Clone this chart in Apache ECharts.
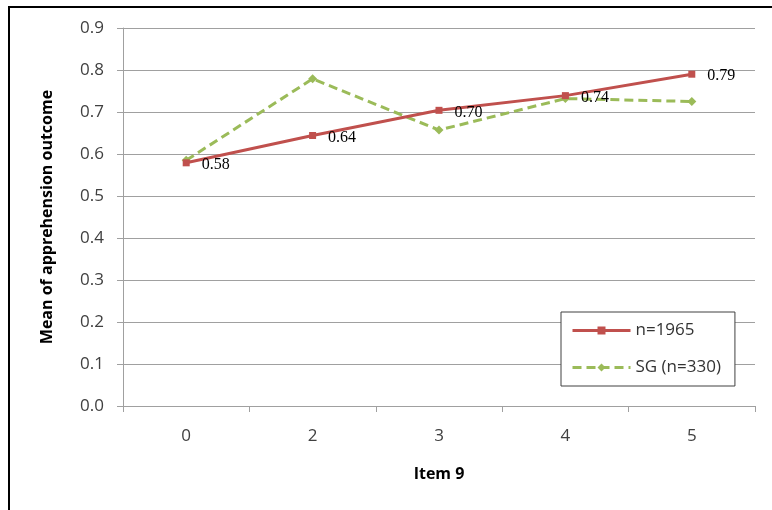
<!DOCTYPE html>
<html>
<head>
<meta charset="utf-8">
<script src="https://cdn.jsdelivr.net/npm/echarts@6/dist/echarts.min.js"></script>
<style>
html,body{margin:0;padding:0;background:#fff;}
#chart{width:772px;height:510px;}
</style>
</head>
<body>
<div id="chart"></div>
<script>
const categories = ['0', '2', '3', '4', '5'];
const seriesAll = [0.579, 0.644, 0.704, 0.739, 0.790];
const seriesSG = [0.585, 0.779, 0.657, 0.732, 0.725];
const yTicks = { min: 0, max: 0.9, interval: 0.1 };

const chart = echarts.init(document.getElementById('chart'));
const font = '"Open Sans", "Noto Sans", sans-serif';
chart.setOption({
  animation: false,
  backgroundColor: '#ffffff',
  grid: { left: 123, top: 28, right: 17, bottom: 104 },
  graphic: [
    { type: 'line', shape: { x1: 8, y1: 7, x2: 772, y2: 7 }, style: { stroke: '#000', lineWidth: 2 } },
    { type: 'line', shape: { x1: 9, y1: 6, x2: 9, y2: 510 }, style: { stroke: '#000', lineWidth: 2 } }
  ],
  legend: {
    orient: 'vertical',
    left: 561, top: 312,
    padding: [10, 14, 10, 10],
    itemGap: 20,
    itemWidth: 58,
    itemHeight: 10,
    backgroundColor: '#fff',
    borderColor: '#404040',
    borderWidth: 1,
    borderRadius: 0,
    lineStyle: { width: 3 },
    textStyle: { fontFamily: font, fontSize: 17, color: '#333', padding: [0, 0, 0, 0] },
    data: ['n=1965', 'SG (n=330)']
  },
  xAxis: {
    type: 'category',
    data: categories,
    boundaryGap: true,
    name: 'Item 9',
    nameLocation: 'middle',
    nameGap: 60,
    nameTextStyle: { fontFamily: font, fontSize: 16, fontWeight: 'bold', color: '#000' },
    axisLine: { lineStyle: { color: '#a0a0a0', width: 1 } },
    axisTick: { show: true, length: 6, lineStyle: { color: '#a0a0a0' } },
    axisLabel: { fontFamily: font, fontSize: 17, color: '#404040', margin: 22 },
    splitLine: { show: false }
  },
  yAxis: {
    type: 'value',
    min: yTicks.min, max: yTicks.max, interval: yTicks.interval,
    name: 'Mean of apprehension outcome',
    nameLocation: 'middle',
    nameGap: 68,
    nameRotate: 90,
    nameTextStyle: { fontFamily: font, fontSize: 16, fontWeight: 'bold', color: '#000' },
    axisLine: { show: true, lineStyle: { color: '#a0a0a0', width: 1 } },
    axisTick: { show: true, length: 6, lineStyle: { color: '#a0a0a0' } },
    axisLabel: { fontFamily: font, fontSize: 17, color: '#404040', margin: 19, formatter: v => v.toFixed(1) },
    splitLine: { show: true, lineStyle: { color: '#a0a0a0', width: 1 } }
  },
  series: [
    {
      name: 'n=1965',
      type: 'line',
      data: seriesAll,
      symbol: 'rect',
      symbolSize: 7,
      lineStyle: { color: '#C0504D', width: 3 },
      itemStyle: { color: '#C0504D' },
      z: 3,
      label: {
        show: true,
        position: 'right',
        distance: 12,
        offset: [0, 2],
        fontFamily: '"Liberation Serif", "Times New Roman", serif',
        fontSize: 16,
        color: '#000',
        formatter: p => p.value.toFixed(2)
      }
    },
    {
      name: 'SG (n=330)',
      type: 'line',
      data: seriesSG,
      symbol: 'diamond',
      symbolSize: 9,
      lineStyle: { color: '#9BBB59', width: 3, type: [9, 5] },
      itemStyle: { color: '#9BBB59' },
      z: 2
    }
  ]
});
</script>
</body>
</html>
